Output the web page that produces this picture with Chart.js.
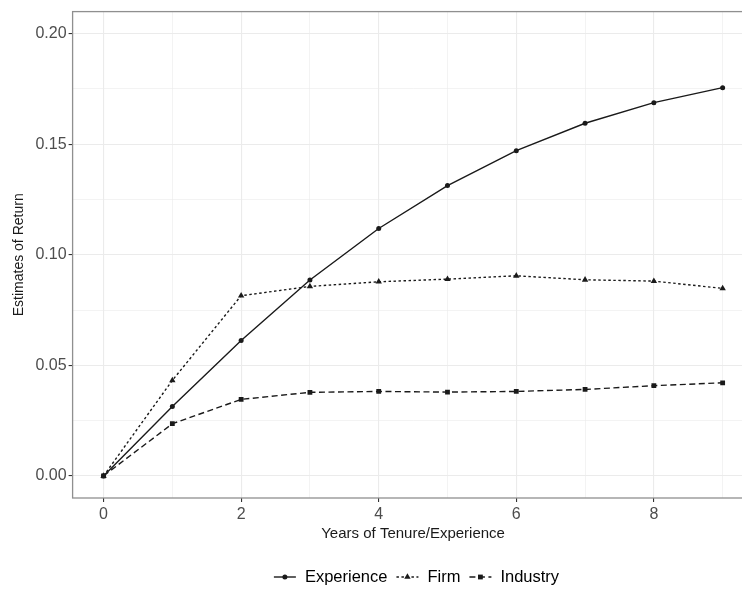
<!DOCTYPE html>
<html>
<head>
<meta charset="utf-8">
<script src="https://cdn.jsdelivr.net/npm/chart.js@4/dist/chart.umd.min.js"></script>
<style>
  html, body { margin: 0; padding: 0; background: #fff; overflow: hidden; }
  #wrap { position: relative; width: 800px; height: 589px; }
</style>
</head>
<body>
<div id="wrap"><canvas id="chart"></canvas></div>
<script>
// Years since start of tenure / experience
const years = [0, 1, 2, 3, 4, 5, 6, 7, 8, 9];

// Estimated returns by year
const experience = [0, 0.0314, 0.0612, 0.0886, 0.1119, 0.1313, 0.1471, 0.1595, 0.1688, 0.1756];
const firm       = [0, 0.0432, 0.0815, 0.0857, 0.0878, 0.0890, 0.0905, 0.0887, 0.0881, 0.0848];
const industry   = [0, 0.0236, 0.0346, 0.0378, 0.0382, 0.0379, 0.0382, 0.0391, 0.0408, 0.0421];

// Axis breaks
const xMajorTicks = [0, 2, 4, 6, 8];
const xMinorTicks = [1, 3, 5, 7, 9];
const yMajorTicks = [0, 0.05, 0.10, 0.15, 0.20];
const yMinorTicks = [0.025, 0.075, 0.125, 0.175];

const seriesNames = ['Experience', 'Firm', 'Industry'];

const FONT = '"Liberation Sans", Arial, Helvetica, sans-serif';
const INK = '#1a1a1a';

function points(vals) {
  return years.map((x, i) => ({ x: x, y: vals[i] }));
}

const isMajor = (list, v) => list.some(t => Math.abs(t - v) < 1e-9);

const datasets = [
  { label: seriesNames[0], data: points(experience), borderDash: [],
    pointStyle: 'circle', pointRadius: 2.5, order: 2 },
  { label: seriesNames[1], data: points(firm), borderDash: [2.5, 2.5],
    pointStyle: 'triangle', pointRadius: 3.7, order: 1 },
  { label: seriesNames[2], data: points(industry), borderDash: [6, 3.5],
    pointStyle: 'rect', pointRadius: 3.4, order: 0 }
].map(d => Object.assign({
  borderColor: INK, backgroundColor: INK, borderWidth: 1.4,
  pointBackgroundColor: INK, pointBorderColor: INK, pointBorderWidth: 0,
  pointHoverRadius: 0, tension: 0, fill: false
}, d));

// Panel frame and bottom legend
const panelAndLegend = {
  id: 'panelAndLegend',
  afterDatasetsDraw(chart) {
    const { ctx, chartArea: a } = chart;
    ctx.save();
    ctx.strokeStyle = '#8f8f8f';
    ctx.lineWidth = 1.3;
    ctx.strokeRect(a.left, a.top, a.right - a.left, a.bottom - a.top);
    ctx.restore();
  },
  afterDraw(chart) {
    const ctx = chart.ctx;
    const keyW = 22, keyGap = 9, itemGap = 9;
    const cy = 577, cx = 416.5;
    ctx.save();
    ctx.font = '16.5px ' + FONT;
    ctx.textBaseline = 'middle';
    ctx.textAlign = 'left';
    const widths = chart.data.datasets.map(d => ctx.measureText(d.label).width);
    let total = 0;
    widths.forEach((w, i) => { total += keyW + keyGap + w + (i < widths.length - 1 ? itemGap : 0); });
    let x = cx - total / 2;
    chart.data.datasets.forEach((d, i) => {
      ctx.save();
      ctx.strokeStyle = d.borderColor;
      ctx.lineWidth = d.borderWidth;
      ctx.setLineDash(d.borderDash);
      ctx.beginPath();
      ctx.moveTo(x, cy);
      ctx.lineTo(x + keyW, cy);
      ctx.stroke();
      ctx.setLineDash([]);
      ctx.fillStyle = d.pointBackgroundColor;
      Chart.helpers.drawPoint(ctx, {
        pointStyle: d.pointStyle, radius: d.pointRadius,
        borderWidth: 0, rotation: 0
      }, x + keyW / 2, cy);
      ctx.restore();
      ctx.fillStyle = '#000';
      ctx.fillText(d.label, x + keyW + keyGap, cy);
      x += keyW + keyGap + widths[i] + itemGap;
    });
    ctx.restore();
  }
};

new Chart(document.getElementById('chart'), {
  type: 'line',
  data: { datasets: datasets },
  plugins: [panelAndLegend],
  options: {
    responsive: true,
    maintainAspectRatio: false,
    animation: false,
    events: [],
    layout: { padding: { top: 10, left: 0, right: 46.4, bottom: 0 } },
    plugins: { legend: { display: false }, tooltip: { enabled: false } },
    scales: {
      x: {
        type: 'linear',
        min: -0.45,
        max: 9.45,
        afterBuildTicks(scale) {
          scale.ticks = xMajorTicks.concat(xMinorTicks).sort((a, b) => a - b).map(v => ({ value: v }));
        },
        afterFit(scale) { scale.height = 91; },
        border: { display: false },
        grid: {
          drawOnChartArea: true,
          drawTicks: true,
          tickLength: 4,
          color: '#ebebeb',
          lineWidth: c => isMajor(xMajorTicks, c.tick.value) ? 1.1 : 0.6,
          tickColor: c => isMajor(xMajorTicks, c.tick.value) ? '#333333' : 'rgba(0,0,0,0)',
          tickWidth: 1.1
        },
        ticks: {
          autoSkip: false,
          maxRotation: 0,
          padding: 3,
          color: '#4d4d4d',
          font: { family: FONT, size: 16 },
          callback: v => isMajor(xMajorTicks, v) ? String(v) : ''
        },
        title: {
          display: true,
          text: 'Years of Tenure/Experience',
          color: '#1a1a1a',
          font: { family: FONT, size: 15 },
          padding: { top: 0, bottom: 46 }
        }
      },
      y: {
        type: 'linear',
        min: -0.01,
        max: 0.21,
        afterBuildTicks(scale) {
          scale.ticks = yMajorTicks.concat(yMinorTicks).sort((a, b) => a - b).map(v => ({ value: v }));
        },
        afterFit(scale) { scale.width = 72.6; },
        border: { display: false },
        grid: {
          drawOnChartArea: true,
          drawTicks: true,
          tickLength: 4,
          color: '#ebebeb',
          lineWidth: c => isMajor(yMajorTicks, c.tick.value) ? 1.1 : 0.6,
          tickColor: c => isMajor(yMajorTicks, c.tick.value) ? '#333333' : 'rgba(0,0,0,0)',
          tickWidth: 1.1
        },
        ticks: {
          autoSkip: false,
          padding: 2,
          color: '#4d4d4d',
          font: { family: FONT, size: 16 },
          callback: v => isMajor(yMajorTicks, v) ? v.toFixed(2) : ''
        },
        title: {
          display: true,
          text: 'Estimates of Return',
          color: '#1a1a1a',
          font: { family: FONT, size: 14 },
          padding: { top: 11, bottom: 0 }
        }
      }
    }
  }
});
</script>
</body>
</html>
